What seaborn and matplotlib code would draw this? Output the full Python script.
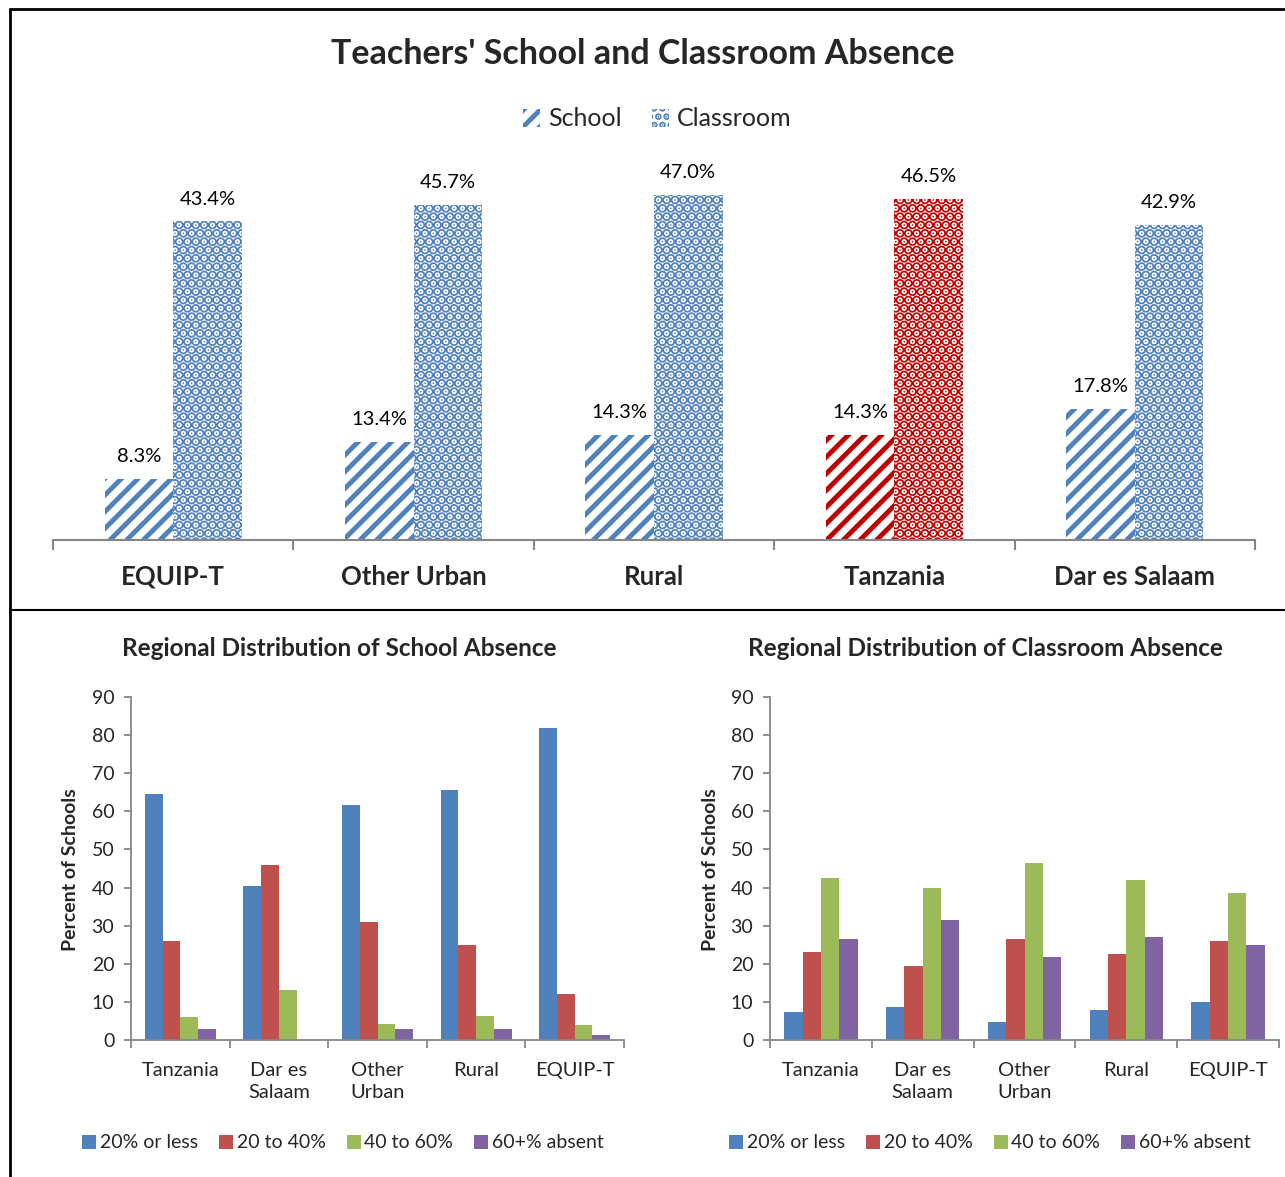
import numpy as np
import pandas as pd
import matplotlib
matplotlib.use("Agg")
import matplotlib.pyplot as plt
import seaborn as sns
from matplotlib.lines import Line2D
from matplotlib.patches import Patch

# ---------------- data ----------------
top_regions = ["EQUIP-T", "Other Urban", "Rural", "Tanzania", "Dar es Salaam"]
school_abs = [8.3, 13.4, 14.3, 14.3, 17.8]
classroom_abs = [43.4, 45.7, 47.0, 46.5, 42.9]

bottom_regions = ["Tanzania", "Dar es\nSalaam", "Other\nUrban", "Rural", "EQUIP-T"]
bands = ["20% or less", "20 to 40%", "40 to 60%", "60+% absent"]

school_le20 = [64.5, 40.5, 61.7, 65.6, 81.9]
school_20_40 = [26.0, 45.8, 30.9, 24.8, 12.2]
school_40_60 = [6.1, 13.2, 4.1, 6.2, 3.9]
school_60p = [2.8, 0.0, 2.8, 2.8, 1.4]

class_le20 = [7.4, 8.6, 4.7, 7.9, 10.1]
class_20_40 = [23.0, 19.3, 26.6, 22.6, 25.9]
class_40_60 = [42.4, 40.0, 46.4, 41.9, 38.7]
class_60p = [26.6, 31.6, 21.9, 27.1, 24.9]

# ---------------- style ----------------
sns.set_theme(style="white")
plt.rcParams["font.family"] = ["Lato", "DejaVu Sans"]
plt.rcParams["hatch.linewidth"] = 3.5

BLUE = "#4F81BD"
DARKRED = "#C00000"
GRAY = "#868686"
band_colors = ["#4F81BD", "#C0504D", "#9BBB59", "#8064A2"]

fig = plt.figure(figsize=(12.85, 11.77), dpi=100)

# ---------------- top chart ----------------
ax = fig.add_axes([53 / 1285, 637 / 1177, 1202 / 1285, 367 / 1177])
df_top = pd.DataFrame({
    "region": top_regions * 2,
    "type": ["School"] * len(top_regions) + ["Classroom"] * len(top_regions),
    "value": school_abs + classroom_abs,
})
sns.barplot(data=df_top, x="region", y="value", hue="type", order=top_regions,
            hue_order=["School", "Classroom"], palette=["white", "white"],
            width=0.57, gap=0, errorbar=None, saturation=1, legend=False, ax=ax)

hatches = ["//", ".."]
hatch_lws = [3.5, 5.0]


def style_patch(p, col, hatch, hlw):
    p.set_facecolor("white")
    p.set_edgecolor(col)
    p.set_linewidth(0)
    p.set_hatch(hatch)
    if hasattr(p, "set_hatch_linewidth"):
        p.set_hatch_linewidth(hlw)


for ci, cont in enumerate(ax.containers):
    for ri, bar in enumerate(cont.patches):
        col = DARKRED if top_regions[ri] == "Tanzania" else BLUE
        style_patch(bar, col, hatches[ci], hatch_lws[ci])
    vals = school_abs if ci == 0 else classroom_abs
    ax.bar_label(cont, labels=[f"{v:.1f}%" for v in vals], padding=10,
                 fontsize=14.5, color="black")

ax.set_ylim(0, 50)
ax.set_xlim(-0.5, len(top_regions) - 0.5)
for s in ["top", "right", "left"]:
    ax.spines[s].set_visible(False)
ax.spines["bottom"].set_color(GRAY)
ax.spines["bottom"].set_linewidth(1.5)
ax.set_yticks([])
ax.set_xlabel("")
ax.set_ylabel("")
ax.set_xticks(range(len(top_regions)))
ax.set_xticklabels(top_regions, fontsize=18.5, fontweight="bold")
ax.set_xticks(np.arange(-0.5, len(top_regions)), minor=True)
ax.tick_params(axis="x", which="major", length=0, pad=18)
ax.tick_params(axis="x", which="minor", length=7, width=1.5, color=GRAY,
               direction="out", bottom=True)

fig.text(0.5, 1 - 54 / 1177, "Teachers' School and Classroom Absence",
         ha="center", va="center", fontsize=24.5, fontweight="bold")
h1 = Patch()
h2 = Patch()
style_patch(h1, BLUE, "//", 3.5)
style_patch(h2, BLUE, "..", 5.0)
fig.legend([h1, h2], ["School", "Classroom"], loc="center",
           bbox_to_anchor=(657 / 1285, 1 - 119 / 1177), ncol=2, frameon=False,
           fontsize=18, handlelength=0.7, handleheight=0.7, handletextpad=0.3,
           columnspacing=1.2)

# ---------------- bottom charts ----------------
def dist_chart(rect, series, title, title_x, ylab_x, leg_x):
    a = fig.add_axes(rect)
    df = pd.DataFrame({
        "region": bottom_regions * len(bands),
        "band": [b for b in bands for _ in bottom_regions],
        "value": [v for s in series for v in s],
    })
    sns.barplot(data=df, x="region", y="value", hue="band", order=bottom_regions,
                hue_order=bands, palette=band_colors, width=0.72, gap=0,
                errorbar=None, saturation=1, legend=False, ax=a)
    for p in a.patches:
        p.set_linewidth(0)
    a.set_ylim(0, 90)
    a.set_yticks(range(0, 91, 10))
    a.set_xlim(-0.5, len(bottom_regions) - 0.5)
    for s in ["top", "right"]:
        a.spines[s].set_visible(False)
    for s in ["left", "bottom"]:
        a.spines[s].set_color(GRAY)
        a.spines[s].set_linewidth(1.3)
    a.set_xlabel("")
    a.set_ylabel("")
    a.set_xticks(range(len(bottom_regions)))
    a.set_xticklabels(bottom_regions, fontsize=14.5, linespacing=1.35)
    a.set_xticks(np.arange(-0.5, len(bottom_regions)), minor=True)
    a.tick_params(axis="x", which="major", length=0, pad=16)
    a.tick_params(axis="x", which="minor", length=6, width=1.3, color=GRAY,
                  direction="out", bottom=True)
    a.tick_params(axis="y", which="major", length=5, width=1.3, color=GRAY,
                  direction="out", left=True, labelsize=14, pad=7)
    fig.text(title_x, 1 - 649 / 1177, title, ha="center", va="center",
             fontsize=17.5, fontweight="bold")
    fig.text(ylab_x, 1 - 870 / 1177, "Percent of Schools", ha="center",
             va="center", rotation=90, fontsize=14, fontweight="bold")
    handles = [Line2D([], [], marker="s", linestyle="", markersize=10,
                      markerfacecolor=c, markeredgewidth=0) for c in band_colors]
    fig.legend(handles, bands, loc="center", bbox_to_anchor=(leg_x, 1 - 1143 / 1177),
               ncol=4, frameon=False, fontsize=14, handlelength=0.7,
               handletextpad=0.2, columnspacing=1.1)
    return a

dist_chart([131 / 1285, 137 / 1177, 493 / 1285, 343 / 1177],
           [school_le20, school_20_40, school_40_60, school_60p],
           "Regional Distribution of School Absence",
           339 / 1285, 70 / 1285, 343 / 1285)
dist_chart([770 / 1285, 137 / 1177, 509 / 1285, 343 / 1177],
           [class_le20, class_20_40, class_40_60, class_60p],
           "Regional Distribution of Classroom Absence",
           985 / 1285, 710 / 1285, 990 / 1285)

# ---------------- frame lines ----------------
lw = 2.0
fig.add_artist(Line2D([10 / 1285, 1.0], [1 - 9 / 1177] * 2, color="black", lw=lw,
                      transform=fig.transFigure))
fig.add_artist(Line2D([10 / 1285] * 2, [0.0, 1 - 9 / 1177], color="black", lw=lw,
                      transform=fig.transFigure))
fig.add_artist(Line2D([10 / 1285, 1.0], [1 - 610 / 1177] * 2, color="black", lw=1.5,
                      transform=fig.transFigure))

fig.savefig("out.png", dpi=100, facecolor="white")
